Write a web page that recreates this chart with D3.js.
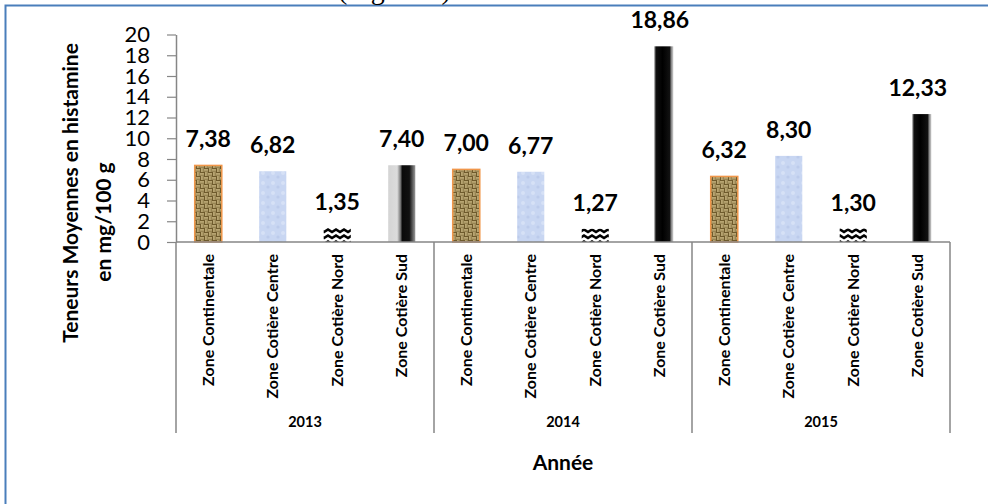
<!DOCTYPE html>
<html>
<head>
<meta charset="utf-8">
<script src="https://cdn.jsdelivr.net/npm/d3@7"></script>
<style>
  body { margin: 0; background: #fff; }
  svg { display: block; }
</style>
</head>
<body>
<div id="vis"></div>
<script>
const FRAME_WIDTH = 988;
const FRAME_HEIGHT = 504;

// data
const years = ["2013", "2014", "2015"];
const zones = ["Zone Continentale", "Zone Cotière Centre", "Zone Cotière Nord", "Zone Cotière Sud"];
const values2013 = [7.38, 6.82, 1.35, 7.40];
const values2014 = [7.00, 6.77, 1.27, 18.86];
const values2015 = [6.32, 8.30, 1.30, 12.33];
const yTicks = [0, 2, 4, 6, 8, 10, 12, 14, 16, 18, 20];

const byYear = {"2013": values2013, "2014": values2014, "2015": values2015};
const rows = [];
years.forEach(yr => zones.forEach((z, i) => rows.push({year: yr, zone: z, value: byYear[yr][i]})));

const FONT = "Lato, 'Open Sans', sans-serif";

const svg = d3.select("#vis")
  .append("svg")
    .attr("width", FRAME_WIDTH)
    .attr("height", FRAME_HEIGHT);

const defs = svg.append("defs");

// woven tan pattern
const weave = defs.append("pattern").attr("id", "weave")
  .attr("width", 8).attr("height", 8).attr("patternUnits", "userSpaceOnUse");
weave.append("rect").attr("width", 8).attr("height", 8).attr("fill", "#d9c690");
[[0,0,1.3,4],[2.6,0,1,4],[4,0,4,1.3],[4,2.6,4,1],[0,4,4,1.3],[0,6.6,4,1],[4,4,1.3,4],[6.6,4,1,4]]
  .forEach(r => weave.append("rect").attr("x", r[0]).attr("y", r[1]).attr("width", r[2]).attr("height", r[3]).attr("fill", "#6e5a2c"));

// light blue mottled texture
const blue = defs.append("pattern").attr("id", "bluetex")
  .attr("width", 10).attr("height", 10).attr("patternUnits", "userSpaceOnUse");
blue.append("rect").attr("width", 10).attr("height", 10).attr("fill", "#c8d6f2");
blue.append("circle").attr("cx", 3).attr("cy", 3).attr("r", 2).attr("fill", "#d6e1f6");
blue.append("circle").attr("cx", 8).attr("cy", 7).attr("r", 1.6).attr("fill", "#bccbeb");

// black zigzag
const zig = defs.append("pattern").attr("id", "zigzag")
  .attr("width", 8).attr("height", 6).attr("patternUnits", "userSpaceOnUse");
zig.append("rect").attr("width", 8).attr("height", 6).attr("fill", "#fff");
zig.append("path").attr("d", "M0,0 L4,2.5 L8,0 L8,3 L4,5.5 L0,3 Z").attr("fill", "#000");

// grey metallic gradient (2013 Sud)
const g1 = defs.append("linearGradient").attr("id", "sud1");
[["0%", "#d4d4d4"], ["33%", "#dcdcdc"], ["45%", "#7a7a7a"], ["52%", "#0a0a0a"], ["78%", "#111"], ["100%", "#9a9a9a"]]
  .forEach(s => g1.append("stop").attr("offset", s[0]).attr("stop-color", s[1]));
// mostly black gradient (2014, 2015 Sud)
const g2 = defs.append("linearGradient").attr("id", "sud2");
[["0%", "#fff"], ["27%", "#fff"], ["30%", "#bbb"], ["36%", "#111"], ["60%", "#000"], ["86%", "#111"], ["94%", "#999"], ["100%", "#ccc"]]
  .forEach(s => g2.append("stop").attr("offset", s[0]).attr("stop-color", s[1]));

function barFill(d) {
  if (d.zone === zones[0]) return "url(#weave)";
  if (d.zone === zones[1]) return "url(#bluetex)";
  if (d.zone === zones[2]) return "url(#zigzag)";
  return d.year === "2013" ? "url(#sud1)" : "url(#sud2)";
}

// outer frame
svg.append("rect")
  .attr("x", 5.5).attr("y", 5.5).attr("width", 1000).attr("height", 520)
  .attr("fill", "none").attr("stroke", "#4a7ebb").attr("stroke-width", 2);

// caption cut at the top
svg.append("text")
  .attr("x", 338).attr("y", -1)
  .attr("font-family", "'Liberation Serif', serif").attr("font-size", 28)
  .text("(Figure 6)");

const X0 = d3.scaleBand().domain(years).range([176, 950]);
const X1 = d3.scaleBand().domain(zones).range([0, X0.bandwidth()])
  .paddingInner(0.58).paddingOuter(0.29);
const Y = d3.scaleLinear().domain([0, 20]).range([242, 34.5]);

// y axis
const yAxis = svg.append("g")
  .attr("transform", "translate(176,0)")
  .call(d3.axisLeft(Y).tickValues(yTicks).tickSize(9).tickSizeOuter(0).tickPadding(17));
yAxis.select(".domain").attr("stroke", "#868686").attr("stroke-width", 1.5);
yAxis.selectAll(".tick line").attr("stroke", "#868686").attr("stroke-width", 1.2);
yAxis.selectAll("text")
  .attr("font-family", FONT).attr("font-size", 22).attr("fill", "#000");

// bars
svg.selectAll("rect.bar")
  .data(rows)
  .enter()
  .append("rect")
    .attr("class", "bar")
    .attr("x", d => X0(d.year) + X1(d.zone))
    .attr("y", d => Y(d.value))
    .attr("width", X1.bandwidth())
    .attr("height", d => Y(0) - Y(d.value))
    .attr("fill", barFill)
    .attr("stroke", d => d.zone === zones[0] ? "#f0964a" : "none")
    .attr("stroke-width", 1.5);

// value labels
svg.selectAll("text.val")
  .data(rows)
  .enter()
  .append("text")
    .attr("class", "val")
    .attr("x", d => X0(d.year) + X1(d.zone) + X1.bandwidth() / 2)
    .attr("y", d => Y(d.value) - 18)
    .attr("text-anchor", "middle")
    .attr("font-family", FONT).attr("font-weight", "bold").attr("font-size", 23)
    .text(d => d3.format(".2f")(d.value).replace(".", ","));

// x axis line + group separators
svg.append("line")
  .attr("x1", 176).attr("x2", 950).attr("y1", 242).attr("y2", 242)
  .attr("stroke", "#868686").attr("stroke-width", 1.5);
svg.selectAll("line.sep")
  .data(years.map(y => X0(y)).concat([X0.range()[1]]))
  .enter()
  .append("line")
    .attr("class", "sep")
    .attr("x1", d => d).attr("x2", d => d)
    .attr("y1", 242).attr("y2", 433)
    .attr("stroke", "#868686").attr("stroke-width", 1.5);

// category labels (rotated)
svg.selectAll("text.cat")
  .data(rows)
  .enter()
  .append("text")
    .attr("class", "cat")
    .attr("transform", d => "translate(" + (X0(d.year) + X1(d.zone) + X1.bandwidth() / 2) + ",254) rotate(-90)")
    .attr("dy", "0.35em")
    .attr("text-anchor", "end")
    .attr("font-family", FONT).attr("font-weight", "bold").attr("font-size", 16)
    .text(d => d.zone);

// year labels
svg.selectAll("text.year")
  .data(years)
  .enter()
  .append("text")
    .attr("class", "year")
    .attr("x", d => X0(d) + X0.bandwidth() / 2)
    .attr("y", 427)
    .attr("text-anchor", "middle")
    .attr("font-family", FONT).attr("font-weight", "bold").attr("font-size", 14.5)
    .text(d => d);

// axis titles
svg.append("text")
  .attr("x", 563).attr("y", 470)
  .attr("text-anchor", "middle")
  .attr("font-family", FONT).attr("font-weight", "bold").attr("font-size", 21)
  .text("Année");

svg.append("text")
  .attr("transform", "translate(78,193) rotate(-90)")
  .attr("text-anchor", "middle")
  .attr("font-family", FONT).attr("font-weight", "bold").attr("font-size", 21)
  .text("Teneurs Moyennes en histamine");
svg.append("text")
  .attr("transform", "translate(111,222) rotate(-90)")
  .attr("text-anchor", "middle")
  .attr("font-family", FONT).attr("font-weight", "bold").attr("font-size", 21)
  .text("en mg/100 g");
</script>
</body>
</html>
